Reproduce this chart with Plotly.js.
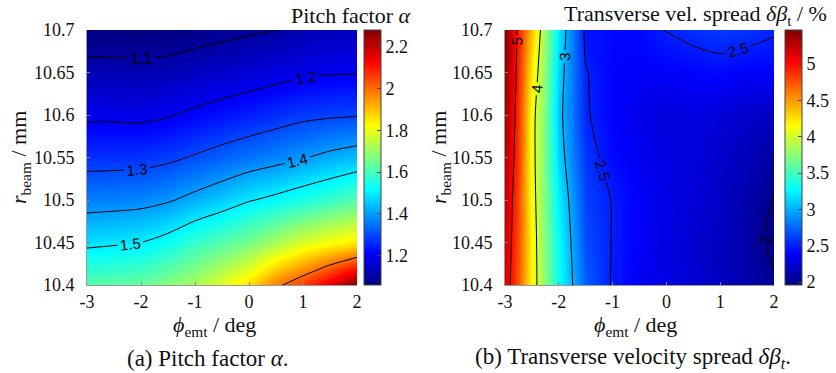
<!DOCTYPE html>
<html>
<head>
<meta charset="utf-8">
<script src="https://cdn.plot.ly/plotly-3.0.1.min.js"></script>
<style>html,body{margin:0;padding:0;background:#fff;}#chart{width:836px;height:373px;}</style>
</head>
<body>
<div id="chart"></div>
<script>
// ---------- data ----------
const rBeam = [10.4, 10.45, 10.5, 10.55, 10.6, 10.65, 10.7];

// (a) pitch factor alpha
const phiA = [-3, -2.5, -2, -1.5, -1, -0.5, 0, 0.5, 1, 1.5, 2];
const alpha = [
  [1.62, 1.63, 1.64, 1.68, 1.72, 1.79, 1.86, 1.98, 2.06, 2.16, 2.28],
  [1.482, 1.49, 1.50, 1.53, 1.58, 1.62, 1.66, 1.72, 1.78, 1.82, 1.85],
  [1.364, 1.368, 1.374, 1.392, 1.423, 1.455, 1.494, 1.52, 1.55, 1.58, 1.62],
  [1.269, 1.27, 1.272, 1.285, 1.307, 1.33, 1.352, 1.372, 1.395, 1.42, 1.44],
  [1.187, 1.186, 1.184, 1.195, 1.213, 1.23, 1.247, 1.265, 1.282, 1.29, 1.295],
  [1.123, 1.122, 1.12, 1.125, 1.139, 1.15, 1.162, 1.175, 1.188, 1.195, 1.196],
  [1.06, 1.06, 1.06, 1.06, 1.07, 1.08, 1.09, 1.1, 1.12, 1.13, 1.14]
];

// (b) transverse velocity spread (%)
const phiB = [-3, -2.75, -2.5, -2.25, -2, -1.5, -1, -0.5, 0, 0.5, 1, 1.5, 2];
const spread = [
  [5.15, 4.75, 4.15, 3.75, 3.30, 2.72, 2.48, 2.36, 2.30, 2.25, 2.18, 2.10, 2.03],
  [5.20, 4.78, 4.15, 3.72, 3.28, 2.66, 2.49, 2.38, 2.30, 2.24, 2.18, 2.10, 1.95],
  [5.25, 4.80, 4.12, 3.70, 3.22, 2.62, 2.49, 2.38, 2.32, 2.26, 2.20, 2.12, 1.99],
  [5.30, 4.85, 4.10, 3.68, 3.12, 2.58, 2.42, 2.35, 2.30, 2.28, 2.22, 2.16, 2.08],
  [5.35, 4.88, 4.10, 3.70, 3.08, 2.52, 2.40, 2.32, 2.28, 2.30, 2.26, 2.22, 2.18],
  [5.40, 4.92, 4.20, 3.75, 3.12, 2.51, 2.40, 2.38, 2.38, 2.40, 2.42, 2.38, 2.40],
  [5.45, 4.95, 4.35, 3.80, 3.20, 2.45, 2.42, 2.42, 2.51, 2.56, 2.60, 2.58, 2.52]
];

const xTickVals = [-3, -2, -1, 0, 1, 2];
const xTickText = ['-3', '-2', '-1', '0', '1', '2'];
const yTickVals = [10.4, 10.45, 10.5, 10.55, 10.6, 10.65, 10.7];
const yTickText = ['10.4', '10.45', '10.5', '10.55', '10.6', '10.65', '10.7'];
const cbATickVals = [1.2, 1.4, 1.6, 1.8, 2, 2.2];
const cbATickText = ['1.2', '1.4', '1.6', '1.8', '2', '2.2'];
const cbBTickVals = [2, 2.5, 3, 3.5, 4, 4.5, 5];
const cbBTickText = ['2', '2.5', '3', '3.5', '4', '4.5', '5'];

// ---------- style ----------
const W = 836, H = 373;
const jet = [[0, 'rgb(0,0,128)'], [0.125, 'rgb(0,0,255)'], [0.375, 'rgb(0,255,255)'],
             [0.625, 'rgb(255,255,0)'], [0.875, 'rgb(255,0,0)'], [1, 'rgb(128,0,0)']];
const serif = '"Liberation Serif", "Times New Roman", serif';
const sans = '"Liberation Sans", Arial, sans-serif';
const tickSize = 18;

function cb(xpx, vals, text) {
  return {
    x: xpx / W, xanchor: 'left', xpad: 0,
    y: 88 / H, yanchor: 'bottom', ypad: 0,
    len: 255, lenmode: 'pixels', thickness: 17, thicknessmode: 'pixels',
    outlinewidth: 1, outlinecolor: '#444',
    ticks: 'inside', ticklen: 4, tickcolor: '#444',
    tickvals: vals, ticktext: text,
    tickfont: {family: serif, size: tickSize, color: '#111'}
  };
}

function fill(x, z, xa, ya, zmin, zmax, colorbar) {
  return {
    type: 'contour', x: x, y: rBeam, z: z, xaxis: xa, yaxis: ya,
    colorscale: jet, zmin: zmin, zmax: zmax, zauto: false,
    contours: {coloring: 'heatmap', showlines: false},
    line: {width: 0}, colorbar: colorbar, hoverinfo: 'skip'
  };
}

function lines(x, z, xa, ya, start, end, size, fmt) {
  return {
    type: 'contour', x: x, y: rBeam, z: z, xaxis: xa, yaxis: ya,
    autocontour: false, showscale: false,
    contours: {coloring: 'none', start: start, end: end, size: size,
               showlabels: true, labelformat: fmt,
               labelfont: {family: sans, size: 15, color: '#000'}},
    line: {color: '#000', width: 1, smoothing: 0.8}, hoverinfo: 'skip'
  };
}

const data = [
  fill(phiA, alpha, 'x', 'y', 1.06, 2.28, cb(364, cbATickVals, cbATickText)),
  lines(phiA, alpha, 'x', 'y', 1.1, 1.5, 0.1, '.1f'),
  lines(phiA, alpha, 'x', 'y', 2, 2.05, 0.5, '~g'),
  fill(phiB, spread, 'x2', 'y2', 1.96, 5.47, cb(785, cbBTickVals, cbBTickText)),
  lines(phiB, spread, 'x2', 'y2', 2, 3, 0.5, '~g'),
  lines(phiB, spread, 'x2', 'y2', 4, 5, 1, '~g')
];

function xax(d0, d1, anchor) {
  return {domain: [d0 / W, d1 / W], anchor: anchor, range: [-3, 2],
    tickvals: xTickVals, ticktext: xTickText, ticks: 'inside', ticklen: 3, tickcolor: '#888',
    showline: true, linecolor: '#999', linewidth: 1, mirror: false, showgrid: false, zeroline: false,
    tickfont: {family: serif, size: tickSize, color: '#111'}, ticklabelstandoff: 0};
}
function yax(anchor) {
  return {domain: [88 / H, 343 / H], anchor: anchor, range: [10.4, 10.7],
    tickvals: yTickVals, ticktext: yTickText, ticks: 'inside', ticklen: 3, tickcolor: '#888',
    showline: true, linecolor: '#999', linewidth: 1, mirror: false, showgrid: false, zeroline: false,
    tickfont: {family: serif, size: tickSize, color: '#111'}, ticklabelstandoff: 8};
}

function ann(text, x, y, size, opts) {
  return Object.assign({text: text, x: x / W, y: 1 - y / H, xref: 'paper', yref: 'paper',
    showarrow: false, font: {family: serif, size: size, color: '#111'},
    xanchor: 'center', yanchor: 'middle'}, opts || {});
}

const layout = {
  width: W, height: H, margin: {l: 0, r: 0, t: 0, b: 0},
  font: {family: serif, size: tickSize, color: '#111'},
  paper_bgcolor: '#fff', plot_bgcolor: '#fff', showlegend: false,
  xaxis: xax(87, 357, 'y'), yaxis: yax('x'),
  xaxis2: xax(505, 774, 'y2'), yaxis2: yax('x2'),
  annotations: [
    ann('Pitch factor <i>α</i>', 413, 15, 22, {xanchor: 'right'}),
    ann('Transverse vel. spread <i>δβ</i><sub>t</sub> / %', 829, 15, 22, {xanchor: 'right'}),
    ann('<i>r</i><sub>beam</sub> / mm', 20, 158, 22, {textangle: -90}),
    ann('<i>r</i><sub>beam</sub> / mm', 440, 158, 22, {textangle: -90}),
    ann('<i>ϕ</i><sub>emt</sub> / deg', 215, 326, 22),
    ann('<i>ϕ</i><sub>emt</sub> / deg', 635, 326, 22),
    ann('(a) Pitch factor <i>α</i>.', 208, 358, 23),
    ann('(b) Transverse velocity spread <i>δβ</i><sub><i>t</i></sub>.', 633, 358, 23)
  ]
};

Plotly.newPlot('chart', data, layout, {displayModeBar: false, staticPlot: true});
</script>
</body>
</html>
